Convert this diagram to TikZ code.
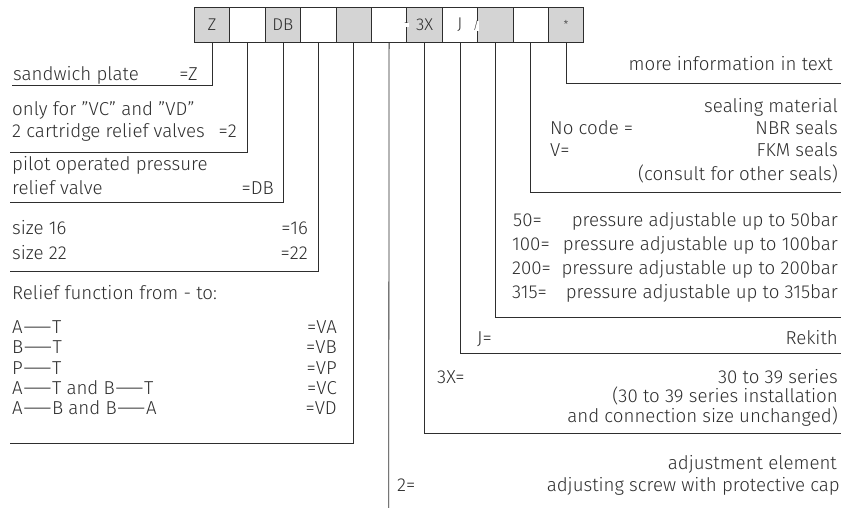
\documentclass[tikz,border=0pt]{standalone}
\usepackage{fontspec}
\setmainfont{Fira Sans}[UprightFont=* Light]
\definecolor{ink}{HTML}{2E2E2E}
\definecolor{boxgray}{HTML}{D4D4D4}
\newcommand\longdash{\scalebox{2.0}[1]{—}}
\begin{document}
\begin{tikzpicture}[x=1pt,y=-1pt,
  font=\fontsize{18.7}{21}\selectfont, text=ink,
  codebox/.style={draw=ink, line width=0.8pt, minimum width=35.4pt, minimum height=35pt, inner sep=0pt, anchor=north west, font=\fontsize{17}{19}\selectfont},
  graybox/.style={codebox, fill=boxgray},
  whitebox/.style={codebox, fill=white},
  leader/.style={draw=ink, line width=0.8pt},
  sepmark/.style={fill=white, inner sep=0.3pt, font=\fontsize{11}{12}\selectfont},
  lt/.style={anchor=base west, inner sep=0pt},
  rt/.style={anchor=base east, inner sep=0pt}]
\useasboundingbox (0,0) rectangle (843,508);
\fill[white] (0,0) rectangle (843,508);
% code boxes
\node[graybox]  (b1)  at (194.0,7) {Z};
\node[whitebox] (b2)  at (229.4,7) {};
\node[graybox]  (b3)  at (264.8,7) {DB};
\node[whitebox] (b4)  at (300.2,7) {};
\node[graybox]  (b5)  at (335.6,7) {};
\node[whitebox] (b6)  at (371.0,7) {};
\node[graybox]  (b7)  at (406.4,7) {3X};
\node[whitebox] (b8)  at (441.8,7) {J};
\node[graybox]  (b9)  at (477.2,7) {};
\node[whitebox] (b10) at (512.6,7) {};
\node[graybox]  (b11) at (548.0,7) {\fontsize{11}{12}\selectfont *};
\node[sepmark] (s1) at (406.4,25) {-};
\node[sepmark] (s2) at (476.0,26) {/};
% leader end points
\coordinate (l1) at (12,85);
\coordinate (l2) at (10,152);
\coordinate (l3) at (10,202);
\coordinate (l4) at (10,271);
\coordinate (l5) at (10,443);
\coordinate (l6) at (388.7,508);
\coordinate (r7) at (841,433);
\coordinate (r8) at (841,353);
\coordinate (r9) at (841,317);
\coordinate (r10) at (841,192);
\coordinate (r11) at (841,83);
% leaders
\draw[leader] (b1.south) |- (l1);
\draw[leader] (b2.south) |- (l2);
\draw[leader] (b3.south) |- (l3);
\draw[leader] (b4.south) |- (l4);
\draw[leader] (b5.south) |- (l5);
\draw[leader] (b6.south) -- (l6);
\draw[leader] (b7.south) |- (r7);
\draw[leader] (b8.south) |- (r8);
\draw[leader] (b9.south) |- (r9);
\draw[leader] (b10.south) |- (r10);
\draw[leader] (b11.south) |- (r11);
% left texts
\node[lt] (t1a) at (13,81) {sandwich plate};
\node[rt] (t1b) at (198,81) {=Z};
\node[lt] (t2a) at (12,116) {only for "VC" and "VD"};
\node[lt] (t2b) at (12,138) {2 cartridge relief valves};
\node[rt] (t2c) at (237,138) {=2};
\node[lt] (t3a) at (12,171) {pilot operated pressure};
\node[lt] (t3b) at (12,194) {relief valve};
\node[rt] (t3c) at (274,194) {=DB};
\node[lt] (t4a) at (12,234) {size 16};
\node[rt] (t4b) at (308,234) {=16};
\node[lt] (t4c) at (12,259) {size 22};
\node[rt] (t4d) at (308,259) {=22};
\node[lt] (t5a) at (12,299) {Relief function from - to:};
\node[lt] (t5b) at (12,333) {A\longdash T};
\node[rt] (t5c) at (337,333) {=VA};
\node[lt] (t5d) at (12,353.5) {B\longdash T};
\node[rt] (t5e) at (337,353.5) {=VB};
\node[lt] (t5f) at (12,374) {P\longdash T};
\node[rt] (t5g) at (337,374) {=VP};
\node[lt] (t5h) at (12,394) {A\longdash T and B\longdash T};
\node[rt] (t5i) at (337,394) {=VC};
\node[lt] (t5j) at (12,414.5) {A\longdash B and B\longdash A};
\node[rt] (t5k) at (337,414.5) {=VD};
\node[lt] (t6a) at (397,491) {2=};
% right texts
\node[rt] (u11) at (833,71) {more information in text};
\node[rt] (u10a) at (838,113) {sealing material};
\node[lt] (u10b) at (550,135) {No code =};
\node[rt] (u10c) at (838,135) {NBR seals};
\node[lt] (u10d) at (550,157) {V=};
\node[rt] (u10e) at (838,157) {FKM seals};
\node[rt] (u10f) at (838,180) {(consult for other seals)};
\node[lt] (u9a) at (513,226) {50=};
\node[rt] (u9b) at (838,226) {pressure adjustable up to 50bar};
\node[lt] (u9c) at (512,250) {100=};
\node[rt] (u9d) at (838,250) {pressure adjustable up to 100bar};
\node[lt] (u9e) at (512,274) {200=};
\node[rt] (u9f) at (838,274) {pressure adjustable up to 200bar};
\node[lt] (u9g) at (512,298) {315=};
\node[rt] (u9h) at (838,298) {pressure adjustable up to 315bar};
\node[lt] (u8a) at (477,344) {J=};
\node[rt] (u8b) at (838,344) {Rekith};
\node[lt] (u7a) at (437,383) {3X=};
\node[rt] (u7b) at (838,383) {30 to 39 series};
\node[rt] (u7c) at (838,402.5) {(30 to 39 series installation};
\node[rt] (u7d) at (838,422) {and connection size unchanged)};
\node[rt] (u6a) at (837,469) {adjustment element};
\node[rt] (u6b) at (840,491) {adjusting screw with protective cap};
\end{tikzpicture}
\end{document}
